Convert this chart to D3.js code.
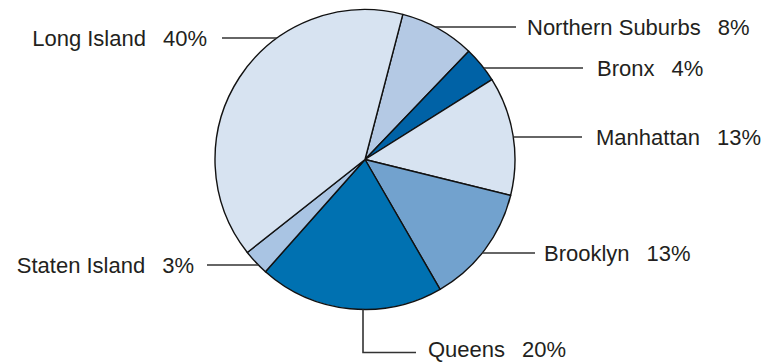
<!DOCTYPE html>
<html><head><meta charset="utf-8">
<script src="https://cdn.jsdelivr.net/npm/d3@7"></script>
<style>
html,body{margin:0;padding:0;background:#fff;}
text{font-family:"Liberation Sans",Arial,sans-serif;font-size:22px;fill:#231f20;}
</style></head>
<body>
<svg id="chart" width="774" height="363"></svg>
<script>
// Data
const regions = ["Northern Suburbs","Bronx","Manhattan","Brooklyn","Queens","Staten Island","Long Island"];
const shares = [8.1, 3.9, 12.8, 12.8, 19.9, 2.8, 39.7];
const shareLabels = ["8%","4%","13%","13%","20%","3%","40%"];
const colors = ["#b4c9e4","#0062a6","#d7e3f1","#72a2ce","#0071b1","#a9c4e3","#d7e3f1"];

// Layout
const cx = 365, cy = 159.5, R = 150;
const startDeg = 14.6;
const labelLayout = {
  "Northern Suburbs": {side:"right", y:27, lineEnd:516, textX:527, baseline:34.5},
  "Bronx":            {side:"right", y:68, lineEnd:583, textX:597, baseline:75.5},
  "Manhattan":        {side:"right", y:137, lineEnd:582, textX:596, baseline:144.5},
  "Brooklyn":         {side:"right", y:253, lineEnd:535, textX:544, baseline:260.5},
  "Queens":           {side:"bottom", x:363, y:352.5, lineEnd:416, textX:428, baseline:356.5},
  "Staten Island":    {side:"left", y:265, lineEnd:207, textX:194, baseline:272.5},
  "Long Island":      {side:"left", y:38, lineEnd:222, textX:207, baseline:45.5}
};

const svg = d3.select("#chart");
const g = svg.append("g").attr("transform", `translate(${cx},${cy})`);

const data = regions.map((r,i)=>({name:r, value:shares[i], label:shareLabels[i], color:colors[i]}));
const start = startDeg*Math.PI/180;
const pie = d3.pie().value(d=>d.value).sort(null).startAngle(start).endAngle(start+2*Math.PI);
const arc = d3.arc().innerRadius(0).outerRadius(R);

g.selectAll("path.slice").data(pie(data)).join("path")
  .attr("class","slice")
  .attr("d", arc)
  .attr("fill", d=>d.data.color)
  .attr("stroke","#111")
  .attr("stroke-width",1.4)
  .attr("stroke-linejoin","round");

// Leaders and labels
const lg = svg.append("g");
data.forEach(d=>{
  const L = labelLayout[d.name];
  let pts;
  if (L.side === "bottom") {
    const y0 = cy + Math.sqrt(R*R - (L.x-cx)*(L.x-cx));
    pts = [[L.x,y0],[L.x,L.y],[L.lineEnd,L.y]];
  } else {
    const dx = Math.sqrt(Math.max(0, R*R - (L.y-cy)*(L.y-cy)));
    const x0 = L.side === "right" ? cx + dx : cx - dx;
    pts = [[x0,L.y],[L.lineEnd,L.y]];
  }
  lg.append("path")
    .attr("d", d3.line()(pts))
    .attr("fill","none")
    .attr("stroke","#333")
    .attr("stroke-width",1.6);
  const t = lg.append("text")
    .attr("x", L.textX)
    .attr("y", L.baseline)
    .attr("text-anchor", L.side === "left" ? "end" : "start");
  t.append("tspan").text(d.name);
  t.append("tspan").attr("dx",17).text(d.label);
});
</script>
</body></html>
